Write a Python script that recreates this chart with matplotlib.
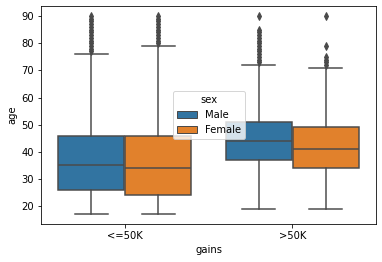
import matplotlib
matplotlib.use("Agg")
import matplotlib.pyplot as plt
from matplotlib.patches import Patch

# box statistics (age by gains and sex)
gains = ["<=50K", ">50K"]
sexes = ["Male", "Female"]
colors = ["#3274a1", "#e1812c"]

whislo = {"Male": [17, 19], "Female": [17, 19]}
q1 = {"Male": [26, 37], "Female": [24, 34]}
med = {"Male": [35, 44], "Female": [34, 41]}
q3 = {"Male": [46, 51], "Female": [46, 49]}
whishi = {"Male": [76, 72], "Female": [79, 71]}
fliers = {
    "Male": [list(range(77, 91)), list(range(73, 86)) + [90]],
    "Female": [list(range(80, 91)), [72, 73, 74, 75, 79, 90]],
}

gray = "#4a4a4a"
fig = plt.figure(figsize=(382 / 72, 262 / 72), dpi=72)
ax = fig.add_axes([0.108, 0.145, 0.876, 0.832])

offsets = [-0.2, 0.2]
for j, sex in enumerate(sexes):
    stats = []
    for i in range(len(gains)):
        stats.append(dict(med=med[sex][i], q1=q1[sex][i], q3=q3[sex][i],
                          whislo=whislo[sex][i], whishi=whishi[sex][i],
                          fliers=fliers[sex][i]))
    pos = [i + offsets[j] for i in range(len(gains))]
    ax.bxp(stats, positions=pos, widths=0.395, patch_artist=True,
           manage_ticks=False,
           boxprops=dict(facecolor=colors[j], edgecolor=gray, linewidth=1.5),
           medianprops=dict(color=gray, linewidth=1.5),
           whiskerprops=dict(color=gray, linewidth=1.5),
           capprops=dict(color=gray, linewidth=1.5),
           flierprops=dict(marker="d", markerfacecolor=gray, markeredgecolor=gray,
                           markersize=5, linestyle="none"))

ax.set_xticks(range(len(gains)))
ax.set_xticklabels(gains)
ax.set_xlim(-0.5, 1.5)
ax.set_ylim(13.4, 93.7)
ax.set_xlabel("gains")
ax.set_ylabel("age")

handles = [Patch(facecolor=c, edgecolor=gray, label=s) for c, s in zip(colors, sexes)]
ax.legend(handles=handles, title="sex", loc="center")

fig.savefig("out.png", dpi=72)
